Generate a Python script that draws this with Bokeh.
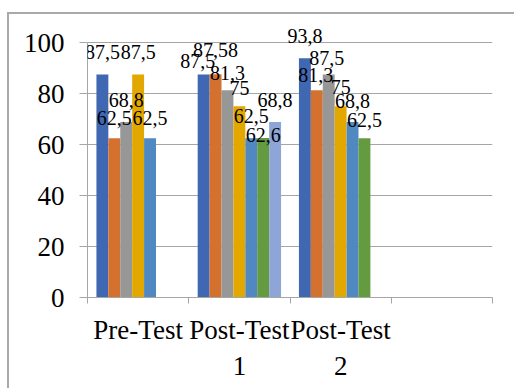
from bokeh.plotting import figure
from bokeh.models import ColumnDataSource, Range1d, FixedTicker, LabelSet
from bokeh.core.properties import value
from bokeh.embed import file_html
from bokeh.resources import INLINE

# ---- data ----
categories = ["Pre-Test", "Post-Test\n1", "Post-Test\n2", ""]
s1 = [87.5, 87.5, 93.8]
s2 = [62.5, 87.58, 81.3]
s3 = [68.8, 81.3, 87.5]
s4 = [87.5, 75, 75]
s5 = [62.5, 62.5, 68.8]
s6 = [None, 62.6, 62.5]
s7 = [None, 68.8, None]
y_ticks = [0, 20, 40, 60, 80, 100]

series = [s1, s2, s3, s4, s5, s6, s7]
colors = ["#4068B2", "#D5712F", "#979797", "#E3A800", "#5089C1", "#659B40", "#8EA5D8"]

# label nudges in screen px (style, not data)
label_dx = [[0, -6, 0], [0, 0, -1], [0, 0, -2], [0, 0, 0], [0, 0, 0], [0, 0, 0], [0, 0, 0]]
label_dy = [[0, -9, 0], [-2, 2, -7], [0, -5, -6], [0, -4, -3], [-2, 0, -1], [0, -19, -4], [0, 0, 0]]

FONT = "Liberation Serif"
GRID = "#a6a6a6"

n_slots = 7
gap_width = 1.5
w = 1.0 / (n_slots + gap_width)

p = figure(width=507, height=376, x_range=Range1d(0, len(categories)), y_range=Range1d(0, 110.2),
           output_backend="svg", toolbar_location=None,
           min_border_left=78, min_border_right=24, min_border_top=2, min_border_bottom=93)
p.styles = {"margin-left": "7px", "margin-top": "12px",
            "border-left": "2px solid #a9a9a9", "border-top": "2px solid #a9a9a9"}
p.outline_line_color = None
p.background_fill_color = "white"
p.border_fill_color = "white"

lx, ly, lt, ldx, ldy = [], [], [], [], []
for si, vals in enumerate(series):
    xs, tops = [], []
    for ci, v in enumerate(vals):
        if v is None:
            continue
        x = ci + gap_width / 2 * w + (si + 0.5) * w
        xs.append(x)
        tops.append(v)
        lx.append(x)
        ly.append(v)
        s = f"{v:.2f}".rstrip("0").rstrip(".").replace(".", ",")
        lt.append(s)
        ldx.append(label_dx[si][ci])
        ldy.append(15 + label_dy[si][ci])
    p.vbar(x=xs, top=tops, width=w, bottom=0, fill_color=colors[si], line_color=None)

lsrc = ColumnDataSource(dict(x=lx, y=ly, text=lt, dx=ldx, dy=ldy))
labels = LabelSet(x="x", y="y", text="text", source=lsrc, x_offset="dx", y_offset="dy",
                  text_align="center", text_baseline="alphabetic",
                  text_font=value(FONT), text_font_size=value("20px"), text_color="black")
p.add_layout(labels)

# grid
p.xgrid.visible = False
p.ygrid.grid_line_color = GRID
p.ygrid.grid_line_width = 1

# y axis
p.yaxis.ticker = FixedTicker(ticks=y_ticks)
p.yaxis.bounds = (0, 100)
p.yaxis.axis_line_color = GRID
p.yaxis.major_tick_line_color = GRID
p.yaxis.major_tick_out = 8
p.yaxis.major_tick_in = 0
p.yaxis.minor_tick_line_color = None
p.yaxis.major_label_text_font = FONT
p.yaxis.major_label_text_font_size = "27px"
p.yaxis.major_label_text_color = "black"
p.yaxis.major_label_standoff = 15

# x axis
centers = [i + 0.5 for i in range(len(categories))]
bounds = [float(i) for i in range(len(categories) + 1)]
p.xaxis.ticker = FixedTicker(ticks=centers, minor_ticks=bounds)
p.xaxis.major_label_overrides = {c: lab for c, lab in zip(centers, categories)}
p.xaxis.axis_line_color = GRID
p.xaxis.major_tick_line_color = None
p.xaxis.major_tick_out = 0
p.xaxis.major_tick_in = 0
p.xaxis.minor_tick_line_color = GRID
p.xaxis.minor_tick_out = 6
p.xaxis.minor_tick_in = 0
p.xaxis.major_label_text_font = FONT
p.xaxis.major_label_text_font_size = "27px"
p.xaxis.major_label_text_color = "black"
p.xaxis.major_label_standoff = 11

open("out.html", "w").write(file_html(p, INLINE))
